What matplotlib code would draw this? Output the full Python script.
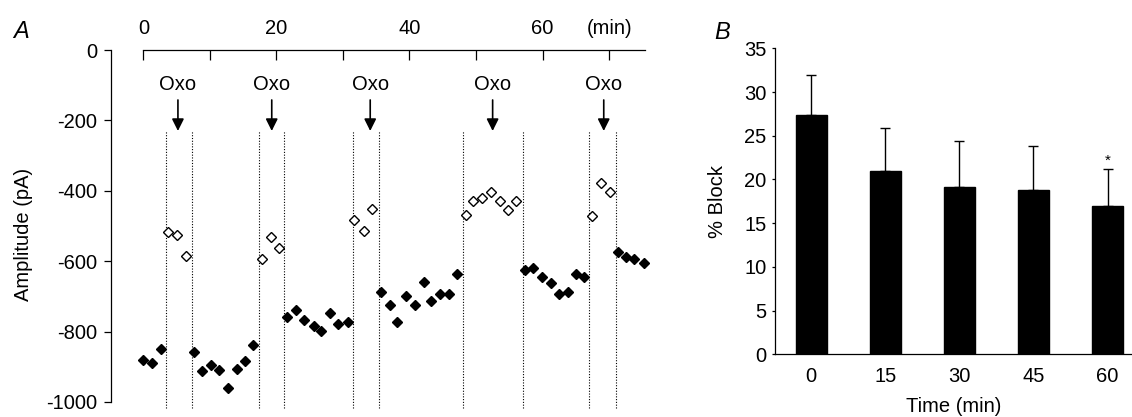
import matplotlib
matplotlib.use("Agg")
import matplotlib.pyplot as plt

plt.rcParams['font.family'] = ['Liberation Sans', 'DejaVu Sans']

# ---------------- Panel A data ----------------
filled_t = [0.0, 1.35, 2.7, 7.67, 8.8, 10.1, 11.4, 12.8, 14.1, 15.3, 16.5,
            21.6, 22.9, 24.2, 25.6, 26.7, 28.0, 29.3, 30.7,
            35.7, 37.05, 38.15, 39.5, 40.9, 42.2, 43.3, 44.6, 45.9, 47.2,
            57.3, 58.6, 59.95, 61.2, 62.5, 63.8, 65.0, 66.2,
            71.4, 72.6, 73.8, 75.2]
filled_amp = [-880, -888, -850, -859, -913, -896, -909, -959, -905, -883, -838,
              -759, -738, -767, -783, -797, -746, -779, -773,
              -688, -725, -772, -700, -725, -659, -713, -693, -693, -637,
              -625, -619, -646, -663, -693, -688, -637, -646,
              -575, -587, -594, -606]
open_t = [3.76, 5.07, 6.42,
          17.9, 19.2, 20.4,
          31.7, 33.1, 34.4,
          48.5, 49.6, 50.9, 52.2, 53.6, 54.8, 56.0,
          67.5, 68.8, 70.2]
open_amp = [-516, -525, -584,
            -593, -530, -563,
            -484, -513, -451,
            -469, -430, -421, -404, -430, -455, -430,
            -472, -379, -404]
oxo_bounds = [3.46, 7.32, 17.44, 21.2, 31.45, 35.4, 48.0, 57.0, 67.0, 71.1]
oxo_arrow_t = [5.2, 19.3, 34.1, 52.5, 69.2]
oxo_label = "Oxo"
time_ticks = [0, 10, 20, 30, 40, 50, 60, 70]
time_ticklabels = ["0", "", "20", "", "40", "", "60", "(min)"]
amp_ticks = [0, -200, -400, -600, -800, -1000]

# ---------------- Panel B data ----------------
block_times = ["0", "15", "30", "45", "60"]
block_mean = [27.37, 21.0, 19.13, 18.83, 16.96]
block_sem = [4.6, 4.85, 5.3, 5.0, 4.27]
block_sig = ["", "", "", "", "*"]
block_yticks = [0, 5, 10, 15, 20, 25, 30, 35]

W, H = 1132, 417
fig = plt.figure(figsize=(W / 100, H / 100), dpi=100)

# ---------------- Panel A ----------------
xl, xr = 111, 645
y0px, ybpx = 50, 409
axA = fig.add_axes([xl / W, 1 - ybpx / H, (xr - xl) / W, (ybpx - y0px) / H])
axA.set_xlim(-4.86, 75.4)
axA.set_ylim(-1020, 0)
for s in ['bottom', 'right']:
    axA.spines[s].set_visible(False)
axA.spines['top'].set_bounds(0, 75.4)
axA.spines['left'].set_bounds(-1000, 0)
for s in ['top', 'left']:
    axA.spines[s].set_linewidth(0.9)

axA.xaxis.set_ticks_position('top')
axA.set_xticks(time_ticks)
axA.set_xticklabels(time_ticklabels)
axA.tick_params(axis='x', direction='in', length=7.5, width=0.9, pad=8.5,
                labelsize=14.5)
axA.set_yticks(amp_ticks)
axA.set_yticklabels([str(v) for v in amp_ticks])
axA.tick_params(axis='y', direction='out', length=5, width=0.9, pad=5,
                labelsize=14.5)
axA.set_ylabel("Amplitude (pA)", fontsize=14.5)
axA.yaxis.set_label_coords(-0.1455, 0.485)

axA.vlines(oxo_bounds, -1017, -230, colors='k', linewidth=0.8,
           linestyles=[(0, (1, 1.5))], clip_on=False)

for t in oxo_arrow_t:
    axA.annotate("", xy=(t, -230), xytext=(t, -142),
                 arrowprops=dict(arrowstyle='-|>,head_length=0.72,head_width=0.36',
                                 mutation_scale=10, lw=1.2, color='k',
                                 shrinkA=0, shrinkB=0))
    axA.text(t, -99, oxo_label, ha='center', va='center', fontsize=14.5)

axA.plot(filled_t, filled_amp, linestyle='none', marker='D', markersize=5.5,
         color='k', clip_on=False)
axA.plot(open_t, open_amp, linestyle='none', marker='D', markersize=4.8,
         markerfacecolor='white', markeredgecolor='k', markeredgewidth=1.0,
         clip_on=False)

fig.text(21 / W, 1 - 31.5 / H, "A", fontsize=17, style='italic',
         ha='center', va='center')

# ---------------- Panel B ----------------
bl, br = 775, 1132
b0px, b35px = 354.3, 48.3
axB = fig.add_axes([bl / W, 1 - b0px / H, (br - bl) / W, (b0px - b35px) / H])
xpos = list(range(len(block_times)))
axB.bar(xpos, block_mean, width=0.415, color='k', edgecolor='k')
axB.errorbar(xpos, block_mean, yerr=[[0] * len(block_sem), block_sem],
             fmt='none', ecolor='k', elinewidth=1.0, capsize=3.6, capthick=1.0)
for x, m, e, s in zip(xpos, block_mean, block_sem, block_sig):
    if s:
        axB.text(x, m + e + 0.45, s, ha='center', va='baseline', fontsize=11)
axB.set_xlim(-0.49, 4.33)
axB.set_ylim(0, 35)
axB.spines['top'].set_visible(False)
axB.spines['right'].set_visible(False)
axB.spines['left'].set_bounds(0, 35)
axB.spines['left'].set_linewidth(0.9)
axB.spines['bottom'].set_linewidth(0.9)
axB.set_xticks(xpos)
axB.set_xticklabels(block_times)
axB.tick_params(axis='x', length=0, pad=9, labelsize=14.5)
axB.set_yticks(block_yticks)
axB.tick_params(axis='y', direction='out', length=2.5, width=0.9, pad=3.6,
                labelsize=14.5)
axB.set_ylabel("% Block", fontsize=14.5)
axB.yaxis.set_label_coords(-0.134, 0.5)
axB.set_xlabel("Time (min)", fontsize=14.5, labelpad=8)

fig.text(722 / W, 1 - 32.5 / H, "B", fontsize=17, style='italic',
         ha='center', va='center')

fig.savefig("out.png", dpi=100)
